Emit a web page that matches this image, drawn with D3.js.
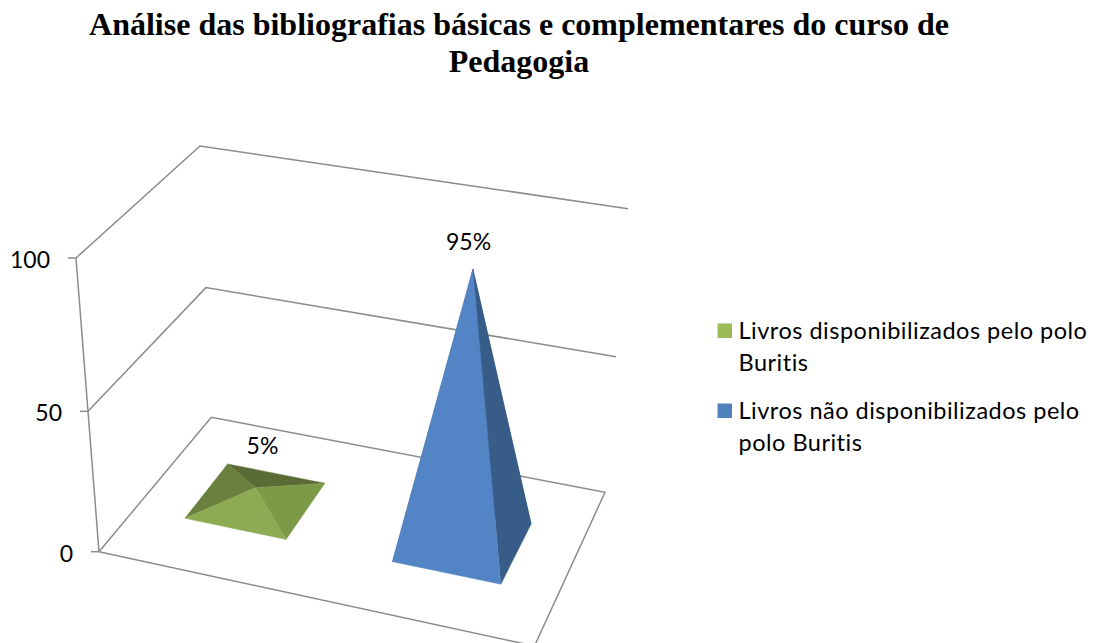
<!DOCTYPE html>
<html lang="pt"><head><meta charset="utf-8">
<script src="https://cdn.jsdelivr.net/npm/d3@7"></script>
<style>html,body{margin:0;padding:0;background:#fff;overflow:hidden}svg{display:block}text{font-variant-ligatures:none}</style>
</head><body><svg id="c" width="1098" height="643"></svg>
<script>
// ---- data ----
const titleLines = ["Análise das bibliografias básicas e complementares do curso de", "Pedagogia"];
const categories = ["Livros disponibilizados pelo polo Buritis", "Livros não disponibilizados pelo polo Buritis"];
const values = [5, 95];
const valueLabels = ["5%", "95%"];
const yTicks = [0, 50, 100];
const legendLines = [["Livros disponibilizados pelo polo", "Buritis"], ["Livros não disponibilizados pelo", "polo Buritis"]];

// ---- style / layout ----
const legendColors = ["#9bbb59", "#4f81bd"];
const faceColors = [
  {back:"#5a6b35", left:"#6a803f", right:"#7d9a49", front:"#8dab53"},
  {back:"#2f4d72", left:"#3a5f8e", right:"#375c87", front:"#5385c6"}
];
const labelOffsets = [[7, -33.5], [-4.4, -18.7]];
const GRID = "#8c8c8c", SANS = "Lato, sans-serif";

// ---- 3D chart box: floor corners and wall tops as seen on screen ----
const floorBox = {fl:[99,551.7], fr:[534.5,646], bl:[211.3,417.3], br:[605,492.3]};
const topBox   = {fl:[76,258],  fr:[552,345],  bl:[200,146],   br:[628,208.7]};
const bilinear = (b,u,v) => [0,1].map(i =>
  d3.scaleLinear().domain([0,1]).range([
    d3.scaleLinear().domain([0,1]).range([b.fl[i], b.bl[i]])(v),
    d3.scaleLinear().domain([0,1]).range([b.fr[i], b.br[i]])(v)])(u));
const hScale = d3.scaleLinear().domain([0,50,100]).range([0,0.478,1]);
function project(u,v,val){
  const a = bilinear(floorBox,u,v), b = bilinear(topBox,u,v), t = hScale(val);
  return [a[0]+(b[0]-a[0])*t, a[1]+(b[1]-a[1])*t];
}
const uScale = d3.scaleBand().domain(categories).range([0,1]).paddingInner(0.5).paddingOuter(0.25);
// perspective correction of the category axis
const uWarp = d3.scaleLinear().domain([0,0.125,0.375,0.625,0.875,1]).range([0,0.117,0.357,0.609,0.866,1]);
const depth = [0.325, 0.723];

const svg = d3.select("#c");
svg.append("g").selectAll("text").data(titleLines).join("text")
  .attr("x",519).attr("y",(d,i)=>35+i*36.5).attr("text-anchor","middle")
  .attr("font-family","'Liberation Serif',serif").attr("font-weight","bold").attr("font-size",32).attr("fill","#000")
  .text(d=>d);

// walls and floor
const line = d3.line();
const grid = svg.append("g").attr("fill","none").attr("stroke",GRID).attr("stroke-width",1.5);
yTicks.forEach(t=>{
  const pts = [project(0,0,t),project(0,1,t),project(1,1,t)];
  if(t===0) pts.push(project(1,0,t),project(0,0,t));
  grid.append("path").attr("d",line(pts));
  const p = project(0,0,t);
  grid.append("path").attr("d",line([[p[0]-8,p[1]],p]));
  svg.append("text").attr("x",p[0]-26).attr("y",p[1]+10).attr("text-anchor","end")
    .attr("font-family",SANS).attr("font-size",23).attr("fill","#000").text(t);
});
grid.append("path").attr("d",line([project(0,0,0),project(0,0,100)]));

// pyramids
categories.forEach((c,i)=>{
  const u0 = uWarp(uScale(c)), u1 = uWarp(uScale(c)+uScale.bandwidth()), um = (u0+u1)/2, vm = (depth[0]+depth[1])/2;
  const FL = project(u0,depth[0],0), FR = project(u1,depth[0],0), BR = project(u1,depth[1],0), BL = project(u0,depth[1],0);
  const apex = project(um,vm,values[i]);
  const g = svg.append("g");
  [["back",BL,BR],["left",FL,BL],["right",FR,BR],["front",FL,FR]].forEach(([k,a,b])=>{
    g.append("path").attr("d",line([a,b,apex])+"Z").attr("fill",faceColors[i][k])
     .attr("stroke",faceColors[i][k]).attr("stroke-width",0.4);
  });
  svg.append("text").attr("x",apex[0]+labelOffsets[i][0]).attr("y",apex[1]+labelOffsets[i][1])
    .attr("text-anchor","middle").attr("font-family",SANS).attr("font-size",23).attr("fill","#000").text(valueLabels[i]);
});

// legend
const legendY = d3.scalePoint().domain(categories).range([323.5,403.5]);
categories.forEach((c,i)=>{
  const y = legendY(c);
  svg.append("rect").attr("x",717.5).attr("y",y).attr("width",14.5).attr("height",14.5).attr("fill",legendColors[i]);
  legendLines[i].forEach((l,j)=>{
    svg.append("text").attr("x",738.5).attr("y",y+15+j*32.7).attr("font-family",SANS).attr("font-size",23.5)
      .attr("letter-spacing",0.5).attr("fill","#000").text(l);
  });
});
</script></body></html>
